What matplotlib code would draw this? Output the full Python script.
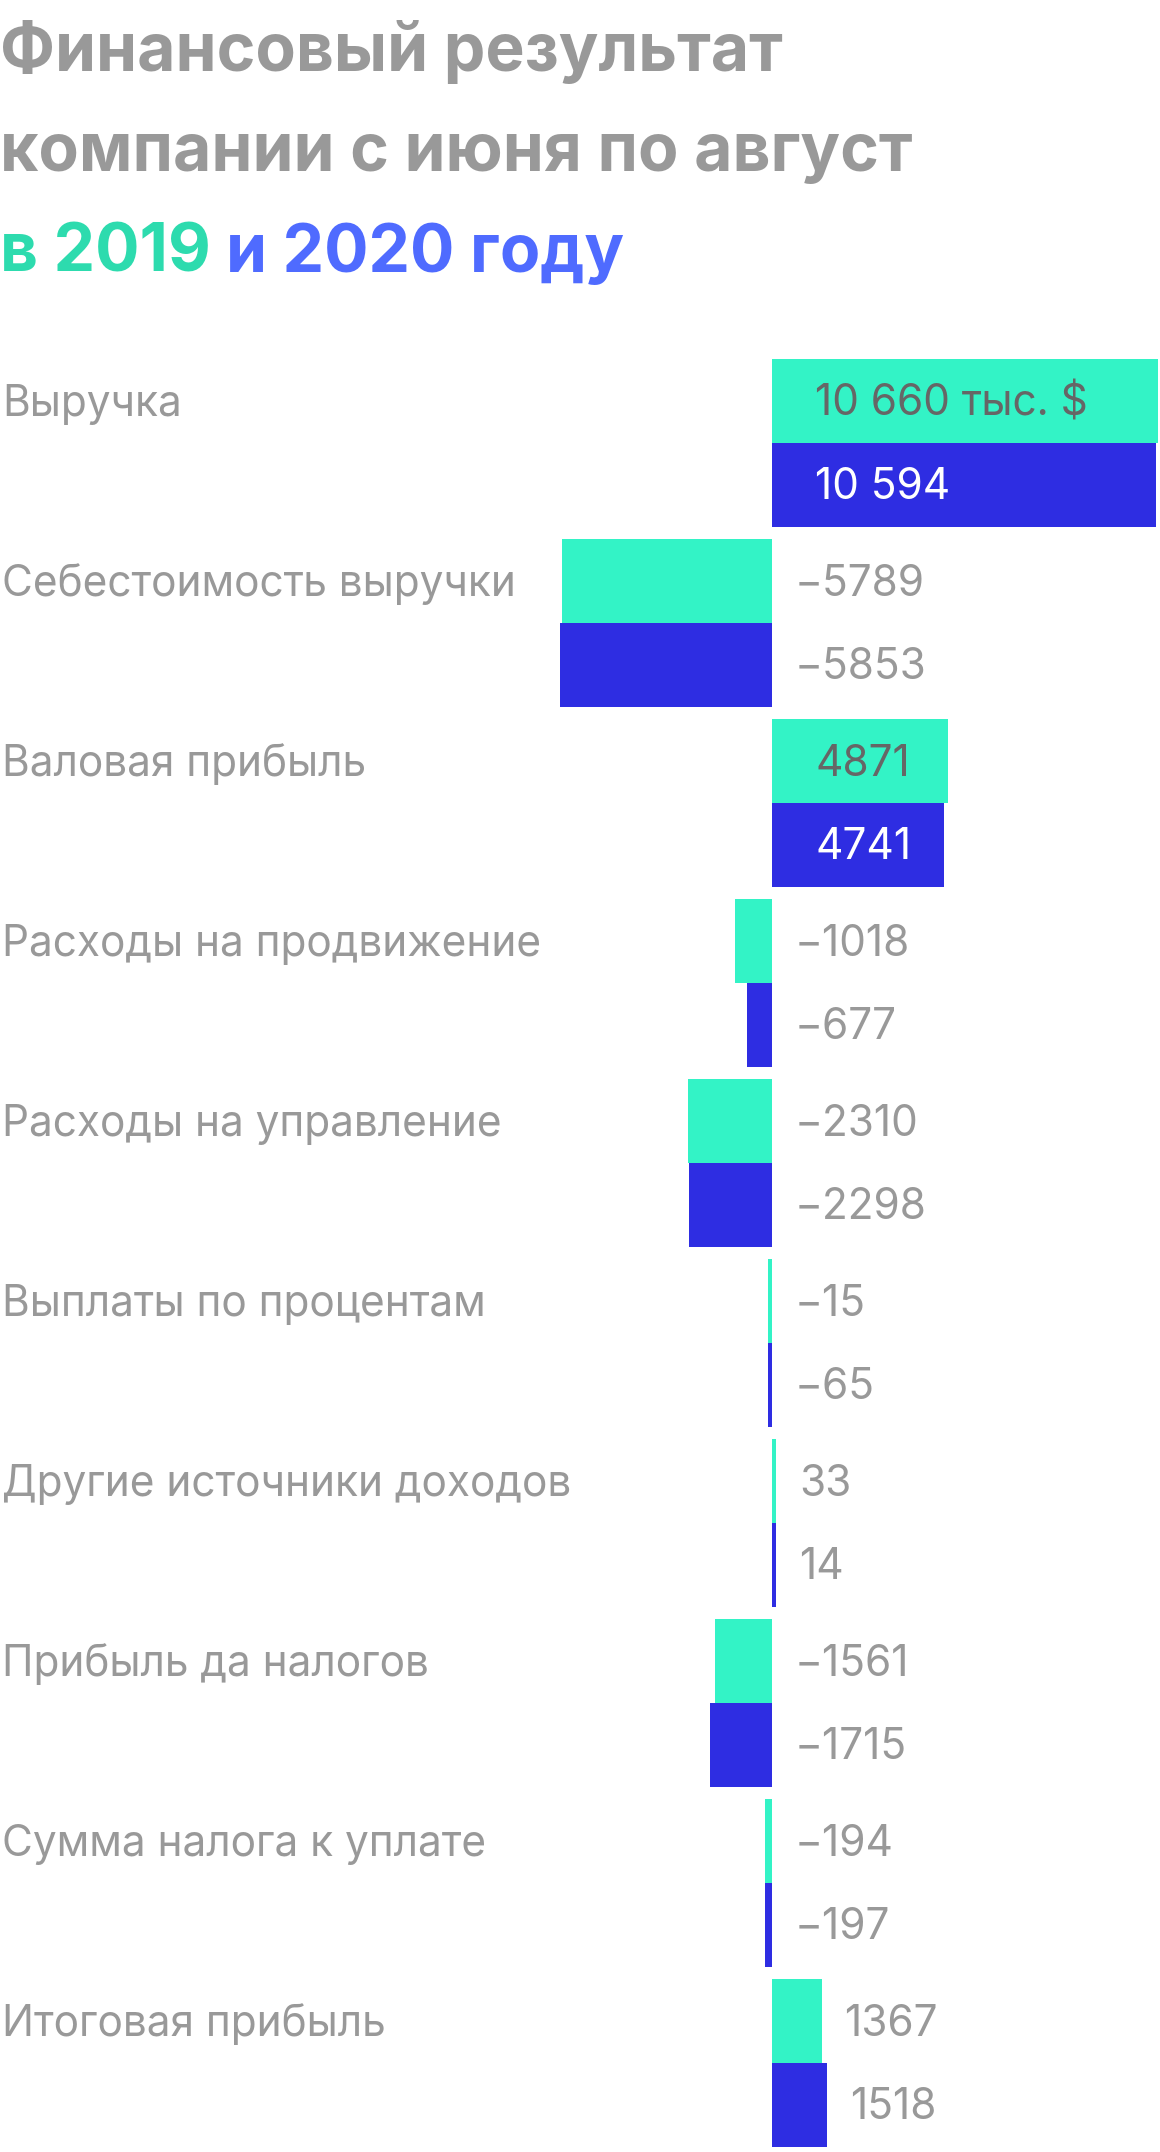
import numpy as np
import matplotlib
matplotlib.use("Agg")
import matplotlib.pyplot as plt

plt.rcParams['font.family'] = ['Inter', 'DejaVu Sans']

# Data (тыс. $)
categories = ["Выручка", "Себестоимость выручки", "Валовая прибыль",
              "Расходы на продвижение", "Расходы на управление",
              "Выплаты по процентам", "Другие источники доходов",
              "Прибыль да налогов", "Сумма налога к уплате", "Итоговая прибыль"]
values_2019 = [10660, -5789, 4871, -1018, -2310, -15, 33, -1561, -194, 1367]
values_2020 = [10594, -5853, 4741, -677, -2298, -65, 14, -1715, -197, 1518]

GREEN = '#33F3C6'
BLUE = '#2E2DE2'
GREY = '#999999'
DARK = '#666666'
TITLE_GREEN = '#2DDBAE'
TITLE_BLUE = '#4F6BFF'

W, H = 1160, 2152
fig = plt.figure(figsize=(W / 100, H / 100), dpi=100)
fig.patch.set_facecolor('white')

# axes over the whole figure; x zero sits at 772 px, 0.03622 px per unit
PX = 0.03622
ZERO = 772
PITCH = 180.0
FIRST = 443.1
ax = fig.add_axes([0, 0, 1, 1])
ax.set_xlim(-ZERO / PX, (W - ZERO) / PX)
ax.set_ylim((H - FIRST) / PITCH, -FIRST / PITCH)
ax.axis('off')

bar_h = 83.6 / PITCH
min_w = 4 / PX
y = np.arange(len(categories))


def fmt(v, unit=False):
    s = f"{abs(v):,}".replace(',', ' ') if abs(v) >= 10000 else str(abs(v))
    s = ('−' if v < 0 else '') + s
    return s + (' тыс. $' if unit else '')


for vals, color, off, inner in [(values_2019, GREEN, -bar_h / 2, DARK),
                                (values_2020, BLUE, bar_h / 2, 'white')]:
    v = np.array(vals, dtype=float)
    w = np.sign(v) * np.maximum(np.abs(v), min_w)
    ax.barh(y + off, w, height=bar_h, color=color, linewidth=0)
    for i, val in enumerate(vals):
        label = fmt(val, unit=(i == 0 and color == GREEN))
        if val > 3000:
            ax.annotate(label, (0, i + off), xytext=(43, -14.5), textcoords='offset pixels',
                        fontsize=30.5, color=inner, va='baseline', ha='left')
        else:
            ax.annotate(label, (max(0, w[i]), i + off), xytext=(23, -14.5),
                        textcoords='offset pixels', fontsize=30.5, color=GREY,
                        va='baseline', ha='left')

# category labels, aligned with the 2019 bar
for i, cat in enumerate(categories):
    ax.annotate(cat, (0, i - bar_h / 2), xycoords=('figure pixels', 'data'),
                xytext=(2, -14.5), textcoords='offset pixels',
                fontsize=30.5, color=GREY, va='baseline', ha='left')

# title
tkw = dict(fontsize=47.5, fontweight='bold', va='baseline', ha='left')
fig.text(0, 1 - 71 / H, "Финансовый результат", color=GREY, **tkw)
fig.text(0, 1 - 171 / H, "компании с июня по август", color=GREY, **tkw)
t1 = fig.text(0, 1 - 272 / H, "в 2019 ", color=TITLE_GREEN, **tkw)
r = fig.canvas.get_renderer()
x1 = t1.get_window_extent(r).x1
fig.text(x1 / W, 1 - 272 / H, "и 2020 году", color=TITLE_BLUE, **tkw)

fig.savefig('out.png', dpi=100, facecolor='white')
